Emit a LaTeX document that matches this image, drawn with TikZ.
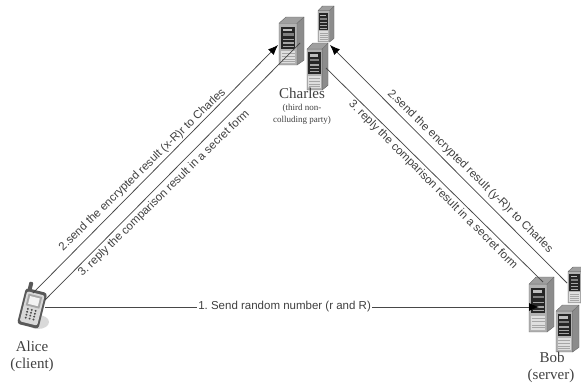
\documentclass[tikz,border=0pt]{standalone}
\usepackage{fontspec}
\setmainfont{Liberation Serif}
\newfontfamily\arialf{Liberation Sans}
\usetikzlibrary{arrows.meta}
\definecolor{linecol}{gray}{0.28}
\definecolor{textcol}{gray}{0.25}
\tikzset{
  link/.style={draw=linecol,line width=0.75pt},
  arrowed/.style={link,-{Latex[length=10pt,width=8pt,color=black]}},
  slant/.style={font=\frenchspacing\arialf\fontsize{11.5}{11.5}\selectfont,text=textcol,inner sep=0pt},
  namelabel/.style={font=\fontsize{15}{15}\selectfont,text=textcol,inner sep=0pt},
  smalllabel/.style={font=\fontsize{9}{9}\selectfont,text=textcol,inner sep=0pt}
}
\newcommand{\serverbox}[5]{%
  \begin{scope}[shift={(#2,#3)},x=#4pt,y=-#5pt]
    \fill[gray!75] (0,.13) -- (.28,0) -- (1,0) -- (.72,.13) -- cycle;
    \fill[gray!90] (.72,.13) -- (1,0) -- (1,.9) -- (.72,1) -- cycle;
    \fill[gray!60] (0,.13) rectangle (.72,1);
    \fill[black!85] (.07,.2) rectangle (.65,.66);
    \fill[black!25] (.14,.24) rectangle (.5,.29);
    \fill[black!50] (.14,.34) rectangle (.58,.39);
    \fill[black!35] (.14,.45) rectangle (.58,.48);
    \fill[black!35] (.14,.53) rectangle (.58,.56);
    \fill[black!35] (.14,.6) rectangle (.58,.62);
    \fill[gray!25] (.07,.7) rectangle (.65,.96);
    \foreach \yy in {.75,.81,.87,.92}{\draw[gray!70,line width=.3pt] (.1,\yy) -- (.62,\yy);}
    \draw[black!60,line width=.4pt] (0,.13) -- (.28,0) -- (1,0) -- (1,.9) -- (.72,1) -- (0,1) -- cycle;
    \draw[black!60,line width=.4pt] (0,.13) -- (.72,.13) -- (1,0) (.72,.13) -- (.72,1);
    \coordinate (#1) at (.5,.5);
  \end{scope}}
\begin{document}
\begin{tikzpicture}[x=1pt,y=-1pt]
\useasboundingbox (0,0) rectangle (581,386);
\fill[white] (0,0) rectangle (581,386);

% Charles servers
\serverbox{charlesa}{279}{17}{25}{48}
\serverbox{charlesb}{318}{6}{16}{36}
\serverbox{charlesc}{307}{43}{21}{47}
% Bob servers
\begin{scope}
\clip (0,0) rectangle (581,386);
\serverbox{boba}{529}{277}{25}{55}
\serverbox{bobb}{568}{267}{18}{36}
\serverbox{bobc}{556}{305}{23}{47}
\end{scope}

% Alice phone
\fill[gray!30] (38,322) ellipse (11 and 7);
\begin{scope}[shift={(33,305)},rotate=-14]
  \fill[black!65,rounded corners=1pt] (-9,-22) rectangle (-5,-14);
  \fill[black!65,rounded corners=3pt] (-11,-15) rectangle (11,22);
  \fill[gray!30,rounded corners=2pt] (-9,-12) rectangle (9,19);
  \fill[gray!70] (-7,-10) rectangle (7,2);
  \fill[gray!10] (-5,-8) rectangle (5,0);
  \foreach \xx in {-4,0,4}{\foreach \yy in {5,8,11,14}{\fill[black!70] (\xx,\yy) circle (1.1);}}
\end{scope}

% connector end points
\coordinate (alicea) at (33,293);
\coordinate (aliceb) at (45,300);
\coordinate (alicec) at (45,307);
\coordinate (tipa) at (278,45);
\coordinate (endb) at (300,43);
\coordinate (tipb) at (330,45);
\coordinate (endc) at (326,68);
\coordinate (bobx) at (567,283);
\coordinate (boby) at (543,282);
\coordinate (tipc) at (539,307);

\draw[arrowed] (alicea) -- (tipa);
\draw[link] (aliceb) -- (endb);
\draw[arrowed] (bobx) -- (tipb);
\draw[link] (endc) -- (boby);
\draw[arrowed] (alicec) -- node[fill=white,inner sep=1pt,font=\frenchspacing\arialf\fontsize{11.5}{11.5}\selectfont,text=textcol,pos=.485] (one) {1. Send random number (r and R)} (tipc);

% labels
\node[slant,rotate=44.2] (la) at (142.5,170) {2.send the encrypted result (x-R)r to Charles};
\node[slant,rotate=44.2] (lb) at (164,193.5) {3. reply the comparison result in a secret form};
\node[slant,rotate=-44.5] (lc) at (470,171.5) {2.send the encrypted result (y-R)r to Charles};
\node[slant,rotate=-45] (ld) at (433,185) {3. reply the comparison result in a secret form};

\node[namelabel] (charles) at (302,93) {Charles};
\node[smalllabel] (charlesx) at (302,108) {(third non-};
\node[smalllabel] (charlesy) at (302,120) {colluding party)};
\node[namelabel] (alice) at (32,346) {Alice};
\node[namelabel] (aliceclient) at (32,365) {(client)};
\node[namelabel] (bob) at (552,357) {Bob};
\node[namelabel] (bobserver) at (551,376) {(server)};
\end{tikzpicture}
\end{document}
